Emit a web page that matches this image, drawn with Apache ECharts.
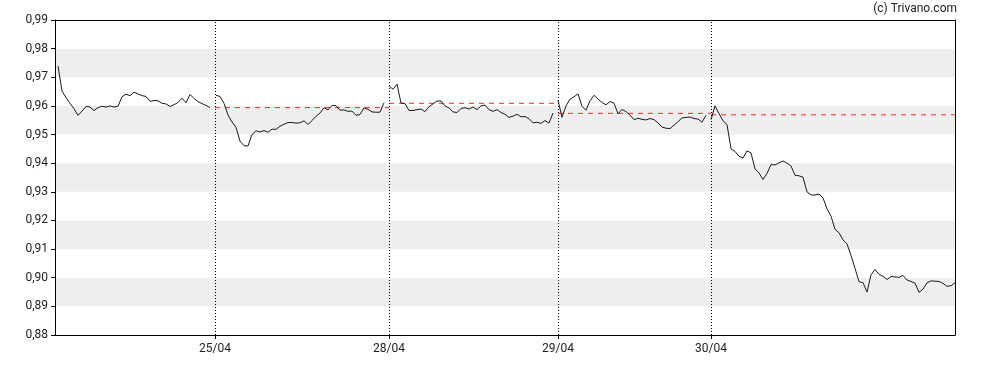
<!DOCTYPE html>
<html>
<head>
<meta charset="utf-8">
<script src="https://cdn.jsdelivr.net/npm/echarts@6/dist/echarts.min.js"></script>
<style>
html,body{margin:0;padding:0;background:#fff;}
#chart{width:988px;height:370px;}
</style>
</head>
<body>
<div id="chart"></div>
<script>
// Day labels at session boundaries (x in time slots)
const dayLabels = ['25/04', '28/04', '29/04', '30/04'];
const dayBounds = [40, 83.5, 125.75, 164];
const dayStarts = [0.75, 40.25, 83.5, 125.75, 164];
const xMax = 225;

// Intraday prices per session
const day1 = [0.9739,0.9652,0.9629,0.9609,0.9590,0.9567,0.9582,0.9598,0.9596,0.9584,
  0.9594,0.9599,0.9596,0.9600,0.9596,0.9599,0.9632,0.9641,0.9636,0.9648,
  0.9642,0.9636,0.9633,0.9616,0.9619,0.9618,0.9609,0.9607,0.9598,0.9604,
  0.9612,0.9627,0.9611,0.9640,0.9626,0.9615,0.9608,0.9602,0.9594];
const day2 = [0.9637,0.9633,0.9609,0.9568,0.9544,0.9525,0.9477,0.9461,0.9460,0.9500,
  0.9513,0.9509,0.9514,0.9508,0.9519,0.9518,0.9529,0.9536,0.9542,0.9542,
  0.9540,0.9541,0.9548,0.9535,0.9549,0.9564,0.9575,0.9594,0.9586,0.9602,
  0.9601,0.9585,0.9586,0.9581,0.9582,0.9567,0.9570,0.9593,0.9588,0.9579,
  0.9578,0.9578,0.9611];
const day3 = [0.9670,0.9658,0.9676,0.9610,0.9608,0.9584,0.9584,0.9587,0.9589,0.9580,
  0.9597,0.9607,0.9617,0.9617,0.9600,0.9593,0.9579,0.9577,0.9591,0.9594,
  0.9589,0.9596,0.9587,0.9600,0.9603,0.9587,0.9581,0.9587,0.9577,0.9571,
  0.9560,0.9564,0.9571,0.9562,0.9563,0.9555,0.9541,0.9543,0.9539,0.9549,
  0.9540,0.9575];
const day4 = [0.9620,0.9560,0.9600,0.9624,0.9632,0.9642,0.9599,0.9585,0.9618,0.9637,
  0.9624,0.9612,0.9604,0.9615,0.9610,0.9572,0.9588,0.9580,0.9568,0.9552,
  0.9557,0.9553,0.9551,0.9556,0.9552,0.9541,0.9526,0.9522,0.9521,0.9533,
  0.9545,0.9558,0.9560,0.9561,0.9556,0.9554,0.9543,0.9567];
const day5 = [0.9552,0.9600,0.9573,0.9548,0.9535,0.9450,0.9441,0.9424,0.9418,0.9443,
  0.9436,0.9380,0.9366,0.9343,0.9364,0.9395,0.9394,0.9401,0.9408,0.9400,
  0.9390,0.9358,0.9356,0.9351,0.9300,0.9289,0.9289,0.9292,0.9279,0.9241,
  0.9215,0.9169,0.9157,0.9132,0.9118,0.9078,0.9033,0.8986,0.8983,0.8950,
  0.9010,0.9029,0.9012,0.9005,0.8994,0.9004,0.9003,0.9001,0.9008,0.8992,
  0.8987,0.8981,0.8949,0.8960,0.8982,0.8989,0.8988,0.8987,0.8980,0.8970,
  0.8972,0.8983];
const days = [day1, day2, day3, day4, day5];

// Previous close reference levels for sessions 2..5
const prevClose = [0.9594, 0.9609, 0.9574, 0.9569];
const refEnds = [83.5, 125.75, 164, 225];

const series = [];
days.forEach((arr, d) => {
  series.push({
    type: 'line', symbol: 'none', animation: false,
    lineStyle: { color: '#1a1a1a', width: 1 },
    data: arr.map((v, i) => [dayStarts[d] + i, v]),
    z: 5,
    markLine: d === 0 ? {
      silent: true, symbol: 'none', animation: false,
      label: { show: false },
      lineStyle: { color: '#000', width: 1, type: [1, 2] },
      data: dayBounds.map(b => ({ xAxis: b }))
    } : undefined
  });
});
prevClose.forEach((v, k) => {
  series.push({
    type: 'line', symbol: 'none', animation: false,
    lineStyle: { color: '#ff2a2a', width: 1, type: [5, 5] },
    data: [[dayBounds[k], v], [refEnds[k], v]],
    z: 4
  });
});

const chart = echarts.init(document.getElementById('chart'), null, { renderer: 'canvas' });
chart.setOption({
  animation: false,
  backgroundColor: '#fff',
  textStyle: { fontFamily: 'Roboto' },
  grid: { left: 55, right: 33, top: 20, bottom: 35 },
  graphic: [{
    type: 'text', right: 31, top: 3,
    style: { text: '(c) Trivano.com', font: '12px Roboto', fill: '#222' }
  }],
  xAxis: [{
    type: 'value', min: 0, max: xMax,
    axisLine: { show: true, onZero: false, lineStyle: { color: '#000', width: 1 } },
    splitLine: { show: false },
    axisTick: { show: true, length: 4, lineStyle: { color: '#000' }, customValues: dayBounds },
    axisLabel: {
      customValues: dayBounds, color: '#222', fontSize: 12, margin: 8, fontFamily: 'Roboto',
      formatter: v => { const i = dayBounds.indexOf(v); return i >= 0 ? dayLabels[i] : ''; }
    }
  }, {
    type: 'value', min: 0, max: xMax, position: 'top',
    axisLine: { show: true, onZero: false, lineStyle: { color: '#000', width: 1 } },
    axisTick: { show: false }, axisLabel: { show: false }, splitLine: { show: false }
  }],
  yAxis: [{
    type: 'value', min: 0.88, max: 0.99, interval: 0.01,
    axisLine: { show: true, onZero: false, lineStyle: { color: '#000', width: 1 } },
    axisTick: { show: true, length: 4, lineStyle: { color: '#000' } },
    axisLabel: {
      color: '#222', fontSize: 12, margin: 7, fontFamily: 'Roboto',
      formatter: v => v.toFixed(2).replace('.', ',')
    },
    splitLine: { show: false },
    splitArea: { show: true, areaStyle: { color: ['#ffffff', '#eeeeee'] } }
  }, {
    type: 'value', min: 0.88, max: 0.99, interval: 0.01, position: 'right',
    axisLine: { show: true, onZero: false, lineStyle: { color: '#000', width: 1 } },
    axisTick: { show: false }, axisLabel: { show: false }, splitLine: { show: false }
  }],
  series: series
});
</script>
</body>
</html>
